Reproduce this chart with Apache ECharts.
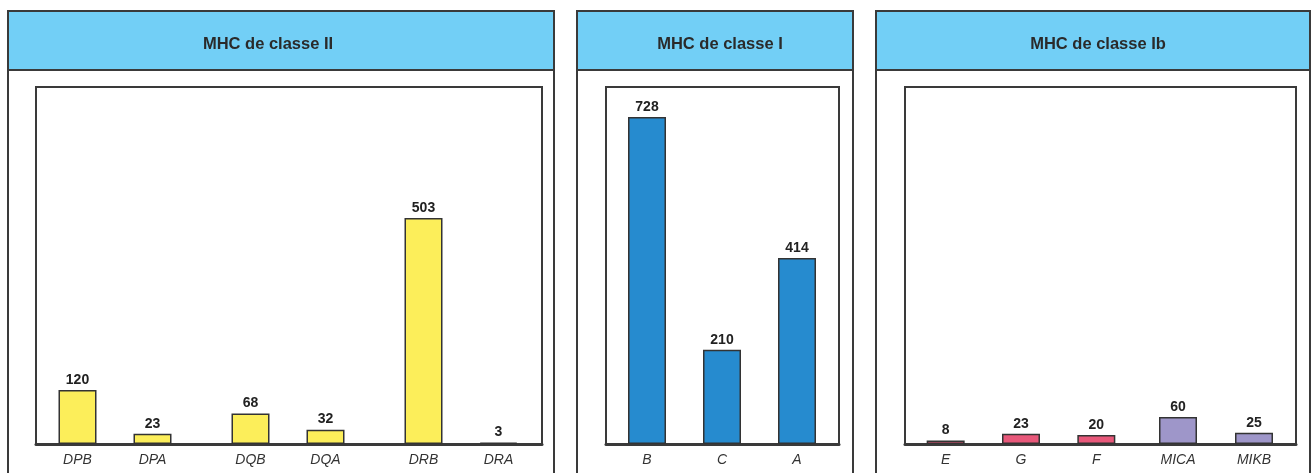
<!DOCTYPE html>
<html>
<head>
<meta charset="utf-8">
<script src="https://cdn.jsdelivr.net/npm/echarts@6/dist/echarts.min.js"></script>
<style>
  html, body { margin: 0; padding: 0; background: #fff; }
  #chart { width: 1312px; height: 473px; }
</style>
</head>
<body>
<div id="chart"></div>
<script>
// panel titles
const panelTitles = ['MHC de classe II', 'MHC de classe I', 'MHC de classe Ib'];

// class II, split by locus group
const dpCats = ['DPB', 'DPA'];
const dpVals = [120, 23];
const dqCats = ['DQB', 'DQA'];
const dqVals = [68, 32];
const drCats = ['DRB', 'DRA'];
const drVals = [503, 3];

// class I
const classICats = ['B', 'C', 'A'];
const classIVals = [728, 210, 414];

// class Ib
const ibCats = ['E', 'G', 'F'];
const ibVals = [8, 23, 20];
const micCats = ['MICA', 'MIKB'];
const micVals = [60, 25];

const YMAX = 795;
const FONT = 'Liberation Sans, Arial, sans-serif';
const BORDER = '#3a3a3a';

// outer panels [x, width, title centre]
const panels = [[8, 546, 263], [577, 276, 715], [876, 434, 1093]];
// plot frames [left, width]
const frames = [[36, 506], [606, 233], [905, 391]];

// bar groups: [cats, vals, color, gridLeft, gridWidth]
const groups = [
  [dpCats, dpVals, '#fcee5a', 40, 150],
  [dqCats, dqVals, '#fcee5a', 213, 150],
  [drCats, drVals, '#fcee5a', 386, 150],
  [classICats, classIVals, '#268bcf', 609.5, 225],
  [ibCats, ibVals, '#e8587a', 908, 226],
  [micCats, micVals, '#9e96c9', 1140, 152]
];

const grids = [], xAxes = [], yAxes = [], series = [];

frames.forEach(f => {
  const i = grids.length;
  grids.push({ left: f[0], width: f[1], top: 87, bottom: 29, show: true,
    borderColor: BORDER, borderWidth: 2, backgroundColor: 'transparent', z: 1 });
  xAxes.push({ gridIndex: i, type: 'value', min: 0, max: 1,
    axisLine: { show: true, onZero: false, lineStyle: { color: BORDER, width: 3 } },
    axisTick: { show: false }, axisLabel: { show: false }, splitLine: { show: false } });
  yAxes.push({ gridIndex: i, type: 'value', show: false, min: 0, max: YMAX });
});

groups.forEach(g => {
  const i = grids.length;
  grids.push({ left: g[3], width: g[4], top: 87, bottom: 29 });
  xAxes.push({ gridIndex: i, type: 'category', data: g[0],
    axisLine: { show: false }, axisTick: { show: false },
    axisLabel: { fontFamily: FONT, fontSize: 14, fontStyle: 'italic', color: '#333', margin: 9 } });
  yAxes.push({ gridIndex: i, type: 'value', show: false, min: 0, max: YMAX });
  series.push({
    type: 'bar', xAxisIndex: i, yAxisIndex: i, data: g[1], barWidth: 38, z: 3,
    itemStyle: { color: g[2], borderColor: '#333', borderWidth: 1.5 },
    label: { show: true, position: 'top', distance: 3, fontFamily: FONT,
      fontSize: 14, fontWeight: 'bold', color: '#222' }
  });
});

const graphic = [];
panels.forEach(p => {
  graphic.push({ type: 'rect', z: -10, silent: true,
    shape: { x: p[0], y: 11, width: p[1], height: 520 },
    style: { fill: '#fff', stroke: BORDER, lineWidth: 2 } });
  graphic.push({ type: 'rect', z: -9, silent: true,
    shape: { x: p[0], y: 11, width: p[1], height: 59 },
    style: { fill: '#72cff6', stroke: BORDER, lineWidth: 2 } });
});

const title = panelTitles.map((t, k) => ({
  text: t, left: panels[k][2], top: 31, textAlign: 'center',
  textStyle: { fontFamily: FONT, fontSize: 16.5, fontWeight: 'bold', color: '#2a2a2a' }
}));

const chart = echarts.init(document.getElementById('chart'));
chart.setOption({
  animation: false,
  title: title,
  graphic: graphic,
  grid: grids,
  xAxis: xAxes,
  yAxis: yAxes,
  series: series
});
</script>
</body>
</html>
